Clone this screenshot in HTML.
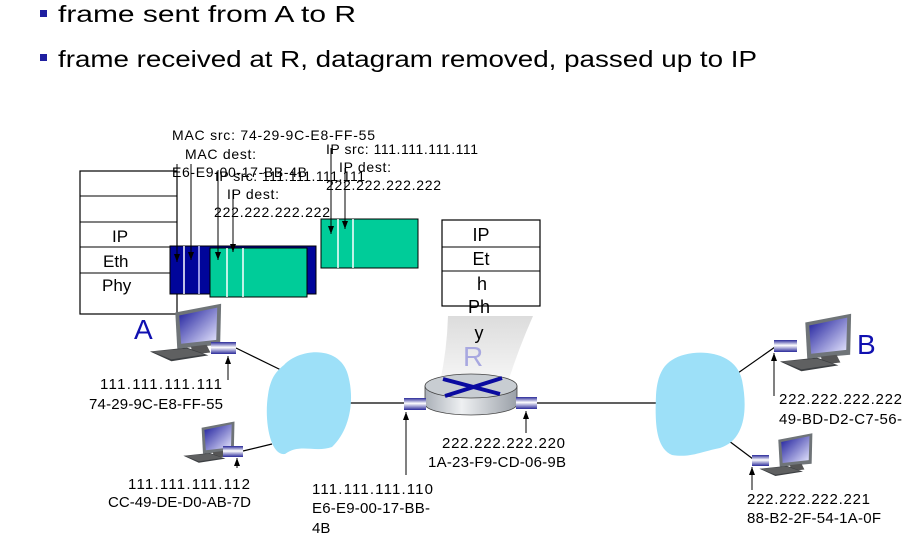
<!DOCTYPE html>
<html><head><meta charset="utf-8"><style>
html,body{margin:0;padding:0;background:#fff;}
svg{display:block;}
text{font-family:"Liberation Sans",sans-serif;}
</style></head><body>
<svg width="907" height="542" viewBox="0 0 907 542" xmlns="http://www.w3.org/2000/svg">
<defs>
<linearGradient id="scr" x1="0" y1="0" x2="1" y2="1"><stop offset="0" stop-color="#1a1a9a"/><stop offset="1" stop-color="#e8e8ff"/></linearGradient>
<linearGradient id="nic" x1="0" y1="0" x2="0" y2="1"><stop offset="0" stop-color="#2a2a9a"/><stop offset="0.45" stop-color="#ffffff"/><stop offset="1" stop-color="#2a2a9a"/></linearGradient>
<linearGradient id="rb" x1="0" y1="0" x2="1" y2="0"><stop offset="0" stop-color="#aab0b8"/><stop offset="0.4" stop-color="#eef0f2"/><stop offset="1" stop-color="#9aa0a8"/></linearGradient>
<linearGradient id="shade" x1="0" y1="0" x2="0" y2="1"><stop offset="0" stop-color="#dcdcdc"/><stop offset="1" stop-color="#f6f6f6"/></linearGradient>
<marker id="ar" markerWidth="8" markerHeight="6" refX="8" refY="3" orient="auto" markerUnits="userSpaceOnUse"><path d="M0,0 L8,3 L0,6 Z" fill="#000"/></marker>
<symbol id="pc" viewBox="0 0 80 60">
<polygon points="28,9 75,0 74,42 30,46" fill="#6f7478"/>
<polygon points="32,12 71,4 70,37 34,41" fill="url(#scr)"/>
<polygon points="44,44 60,42 64,50 46,52" fill="#555"/>
<polygon points="2,49 40,45 62,53 24,59" fill="#3c3f42"/>
<polygon points="4,49 40,46 58,52 24,57" fill="#777" opacity="0.6"/>
</symbol>
</defs>

<rect x="40" y="10" width="7" height="7" fill="#1f1fa0"/>
<text x="58" y="22" font-size="23" textLength="298" lengthAdjust="spacingAndGlyphs">frame sent from A to R</text>
<rect x="40" y="54" width="7" height="7" fill="#1f1fa0"/>
<text x="58" y="67" font-size="23" textLength="699" lengthAdjust="spacingAndGlyphs">frame received at R, datagram removed, passed up to IP</text>

<path d="M448,316 L533,316 Q518,350 508,382 L440,382 Q447,350 448,316 Z" fill="url(#shade)"/>

<rect x="80" y="171" width="97" height="143" fill="#fff" stroke="#000" stroke-width="1.2"/>
<line x1="80" y1="196" x2="177" y2="196" stroke="#000"/>
<line x1="80" y1="222" x2="177" y2="222" stroke="#000"/>
<line x1="80" y1="247" x2="177" y2="247" stroke="#000"/>
<line x1="80" y1="273" x2="177" y2="273" stroke="#000"/>
<text x="112" y="242" font-size="17">IP</text>
<text x="103" y="267" font-size="17">Eth</text>
<text x="102" y="291" font-size="17">Phy</text>

<rect x="170" y="246" width="146" height="48" fill="#00059a" stroke="#000"/>
<line x1="184" y1="246" x2="184" y2="294" stroke="#fff" stroke-width="1.5"/>
<line x1="199" y1="246" x2="199" y2="294" stroke="#c8c8ff" stroke-width="1.5"/>
<rect x="210" y="248" width="97" height="49" fill="#00cc99" stroke="#000"/>
<line x1="227" y1="248" x2="227" y2="297" stroke="#fff" stroke-width="1.5"/>
<line x1="243" y1="248" x2="243" y2="297" stroke="#fff" stroke-width="1.5"/>

<rect x="321" y="219" width="97" height="49" fill="#00cc99" stroke="#000"/>
<line x1="338" y1="219" x2="338" y2="268" stroke="#fff" stroke-width="1.5"/>
<line x1="353" y1="219" x2="353" y2="268" stroke="#fff" stroke-width="1.5"/>

<g stroke="#000" stroke-width="1">
<line x1="177" y1="164" x2="177" y2="262" marker-end="url(#ar)"/>
<line x1="191" y1="164" x2="191" y2="260" marker-end="url(#ar)"/>
<line x1="218" y1="170" x2="218" y2="260" marker-end="url(#ar)"/>
<line x1="233" y1="190" x2="233" y2="252" marker-end="url(#ar)"/>
<line x1="331" y1="148" x2="331" y2="234" marker-end="url(#ar)"/>
<line x1="345" y1="168" x2="345" y2="229" marker-end="url(#ar)"/>
</g>

<g font-size="14" lengthAdjust="spacingAndGlyphs">
<text x="172" y="140" textLength="203">MAC src: 74-29-9C-E8-FF-55</text>
<text x="185" y="159" textLength="71">MAC dest:</text>
<text x="172" y="177" textLength="135">E6-E9-00-17-BB-4B</text>
<text x="215" y="181" textLength="150">IP src: 111.111.111.111</text>
<text x="227" y="199" textLength="52">IP dest:</text>
<text x="214" y="217" textLength="116">222.222.222.222</text>
<text x="326" y="154" textLength="152">IP src: 111.111.111.111</text>
<text x="339" y="172" textLength="52">IP dest:</text>
<text x="326" y="190" textLength="115">222.222.222.222</text>
</g>

<rect x="442" y="220" width="98" height="86" fill="#fff" stroke="#000" stroke-width="1.2"/>
<line x1="442" y1="247" x2="540" y2="247" stroke="#000"/>
<line x1="442" y1="271" x2="540" y2="271" stroke="#000"/>
<g font-size="18" text-anchor="middle">
<text x="481" y="241">IP</text>
<text x="481" y="265">Et</text>
<text x="482" y="290">h</text>
<text x="479" y="313">Ph</text>
<text x="479" y="339">y</text>
</g>
<text x="463" y="366" font-size="28" fill="#a8a8e0">R</text>

<g stroke="#000" stroke-width="1.2" fill="none">
<line x1="236" y1="348" x2="281" y2="370"/>
<line x1="243" y1="451" x2="272" y2="444"/>
<line x1="350" y1="403" x2="404" y2="403"/>
<line x1="537" y1="403" x2="660" y2="403"/>
<line x1="728" y1="380" x2="775" y2="347"/>
<line x1="725" y1="438" x2="753" y2="459"/>
</g>

<path d="M284,365 C300,348 340,345 348,375 C355,400 350,430 332,447 C315,453 300,443 285,454 C270,456 264,420 268,395 C270,380 275,372 284,365 Z" fill="#9de0f8"/>
<path d="M672,360 C690,348 735,348 742,380 C748,410 745,440 720,448 C700,452 690,458 672,455 C655,448 655,420 656,395 C657,378 662,366 672,360 Z" fill="#9de0f8"/>

<path d="M425,386 L425,404 A46,11 0 0 0 517,404 L517,386 Z" fill="url(#rb)" stroke="#444" stroke-width="0.8"/>
<ellipse cx="471" cy="386" rx="46" ry="12" fill="#c8cdd2" stroke="#444" stroke-width="0.8"/>
<g stroke="#0a0aa0" stroke-width="4">
<line x1="443" y1="379" x2="500" y2="394"/>
<line x1="445" y1="396" x2="502" y2="378"/>
</g>
<rect x="404" y="398" width="22" height="12" fill="url(#nic)"/>
<rect x="516" y="397" width="21" height="12" fill="url(#nic)"/>

<use href="#pc" x="148" y="303" width="78" height="60"/>
<rect x="211" y="342" width="25" height="12" fill="url(#nic)"/>
<use href="#pc" x="182" y="421" width="56" height="43"/>
<rect x="223" y="446" width="20" height="11" fill="url(#nic)"/>
<use href="#pc" x="778" y="311" width="78" height="64"/>
<rect x="774" y="340" width="23" height="12" fill="url(#nic)"/>
<use href="#pc" x="758" y="432" width="58" height="46"/>
<rect x="752" y="455" width="17" height="11" fill="url(#nic)"/>

<g stroke="#000" stroke-width="1">
<line x1="228" y1="380" x2="228" y2="356" marker-end="url(#ar)"/>
<line x1="237" y1="468" x2="237" y2="458" marker-end="url(#ar)"/>
<line x1="406" y1="475" x2="406" y2="412" marker-end="url(#ar)"/>
<line x1="526" y1="433" x2="526" y2="411" marker-end="url(#ar)"/>
<line x1="774" y1="396" x2="774" y2="353" marker-end="url(#ar)"/>
<line x1="752" y1="490" x2="752" y2="467" marker-end="url(#ar)"/>
</g>

<text x="134" y="339" font-size="28" fill="#1010b0">A</text>
<text x="857" y="354" font-size="28" fill="#1010b0">B</text>

<g font-size="15" lengthAdjust="spacingAndGlyphs">
<text x="100" y="389" textLength="122">111.111.111.111</text>
<text x="89" y="409" textLength="134">74-29-9C-E8-FF-55</text>
<text x="128" y="489" textLength="122">111.111.111.112</text>
<text x="108" y="507" textLength="143">CC-49-DE-D0-AB-7D</text>
<text x="312" y="494" textLength="121">111.111.111.110</text>
<text x="312" y="513" textLength="118">E6-E9-00-17-BB-</text>
<text x="312" y="533">4B</text>
<text x="442" y="448" textLength="123">222.222.222.220</text>
<text x="428" y="467" textLength="138">1A-23-F9-CD-06-9B</text>
<text x="779" y="404" textLength="123">222.222.222.222</text>
<text x="779" y="424" textLength="123">49-BD-D2-C7-56-</text>
<text x="747" y="504" textLength="123">222.222.222.221</text>
<text x="747" y="523" textLength="134">88-B2-2F-54-1A-0F</text>
</g>
</svg>
</body></html>
